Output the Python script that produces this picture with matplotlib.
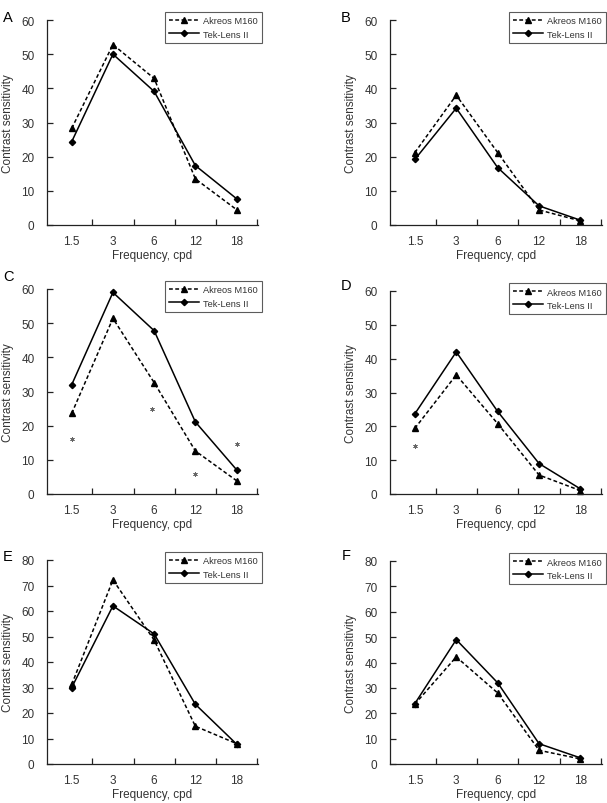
import matplotlib
matplotlib.use('Agg')
import matplotlib.pyplot as plt
import numpy as np

plt.rcParams['font.family'] = ['Liberation Sans', 'DejaVu Sans']

# x categories (spatial frequency, cpd)
freq_labels = ['1.5', '3', '6', '12', '18']

# contrast sensitivity per panel
akreos_A = [28.3, 52.8, 42.9, 13.5, 4.5]
tek_A = [24.4, 50.0, 39.1, 17.4, 7.7]
akreos_B = [21.2, 38.0, 21.2, 4.4, 1.2]
tek_B = [19.2, 34.2, 16.8, 5.6, 1.4]
akreos_C = [23.6, 51.4, 32.6, 12.6, 3.9]
tek_C = [32.0, 59.0, 47.8, 21.1, 7.1]
akreos_D = [19.4, 35.2, 20.8, 5.6, 1.0]
tek_D = [23.7, 42.0, 24.4, 9.0, 1.5]
akreos_E = [31.2, 72.2, 48.6, 14.8, 8.0]
tek_E = [30.0, 62.0, 51.0, 23.4, 7.8]
akreos_F = [23.6, 42.2, 28.0, 5.4, 2.0]
tek_F = [23.8, 49.0, 32.0, 8.0, 2.4]

# asterisks (significance marks) in panels C and D
star_C_x = [0, 1.95, 3, 4]
star_C_y = [16.1, 24.9, 5.9, 14.6]
star_D_x = [0]
star_D_y = [14.3]

W, H = 607, 804
fig = plt.figure(figsize=(W / 100, H / 100), dpi=100)
fig.patch.set_facecolor('white')

txt = '#333333'


def px_axes(left, right, top, bottom):
    return fig.add_axes([left / W, 1 - bottom / H, (right - left) / W, (bottom - top) / H])


def style_axes(ax, ymax, ystep):
    x = np.arange(len(freq_labels))
    ax.set_xlim(-0.6, 4.52)
    ax.set_ylim(0, ymax)
    ax.set_xticks(x)
    ax.set_xticklabels(freq_labels)
    ax.set_xticks(np.arange(0.5, 5, 1.0), minor=True)
    ax.set_yticks(np.arange(0, ymax + 1, ystep))
    ax.tick_params(axis='x', which='major', length=0, pad=7, labelsize=8.5, colors=txt)
    ax.tick_params(axis='x', which='minor', direction='in', length=4.5, width=0.9, color='#222222')
    ax.tick_params(axis='y', which='major', direction='in', length=4.5, width=0.9, pad=9,
                   labelsize=8.5, colors=txt)
    ax.tick_params(axis='y', colors='#222222', labelcolor=txt)
    for s in ['top', 'right']:
        ax.spines[s].set_visible(False)
    for s in ['left', 'bottom']:
        ax.spines[s].set_linewidth(0.9)
        ax.spines[s].set_color('#222222')
    ax.set_xlabel('Frequency, cpd', fontsize=8.5, color=txt, labelpad=2)
    ax.set_ylabel('Contrast sensitivity', fontsize=8.5, color=txt, labelpad=5)


def draw(ax, akreos, tek, ymax, ystep, letter, lx, ly):
    x = np.arange(len(freq_labels))
    ax.plot(x, akreos, color='black', linestyle=(0, (2.5, 1.6)), linewidth=1.1,
            marker='^', markersize=5, label='Akreos M160', clip_on=False)
    ax.plot(x, tek, color='black', linestyle='-', linewidth=1.1,
            marker='D', markersize=3.2, label='Tek-Lens II', clip_on=False)
    style_axes(ax, ymax, ystep)
    leg = ax.legend(loc='upper right', bbox_to_anchor=(1.02, 1.04), borderaxespad=0,
                    fontsize=6.7, frameon=True, fancybox=False, handlelength=3.2,
                    handletextpad=0.4, borderpad=0.5, labelspacing=0.45)
    leg.get_frame().set_edgecolor('#333333')
    leg.get_frame().set_linewidth(0.8)
    for t in leg.get_texts():
        t.set_color(txt)
    fig.text(lx / W, 1 - ly / H, letter, fontsize=10.5, color='black', ha='center', va='center')


axA = px_axes(47, 258, 21, 226)
draw(axA, akreos_A, tek_A, 60, 10, 'A', 8, 18)
axB = px_axes(390, 602, 21, 226)
draw(axB, akreos_B, tek_B, 60, 10, 'B', 346, 18)
axC = px_axes(47, 258, 290, 495)
draw(axC, akreos_C, tek_C, 60, 10, 'C', 8, 277)
axC.scatter(star_C_x, star_C_y, marker=(6, 2, 0), s=9, color='#666666', linewidths=0.5)
axD = px_axes(390, 602, 292, 495)
draw(axD, akreos_D, tek_D, 60, 10, 'D', 346, 286)
axD.scatter(star_D_x, star_D_y, marker=(6, 2, 0), s=9, color='#666666', linewidths=0.5)
axE = px_axes(47, 258, 561, 765)
draw(axE, akreos_E, tek_E, 80, 10, 'E', 8, 557)
axF = px_axes(390, 602, 562, 765)
draw(axF, akreos_F, tek_F, 80, 10, 'F', 346, 556)

fig.savefig('out.png', dpi=100, facecolor='white')
